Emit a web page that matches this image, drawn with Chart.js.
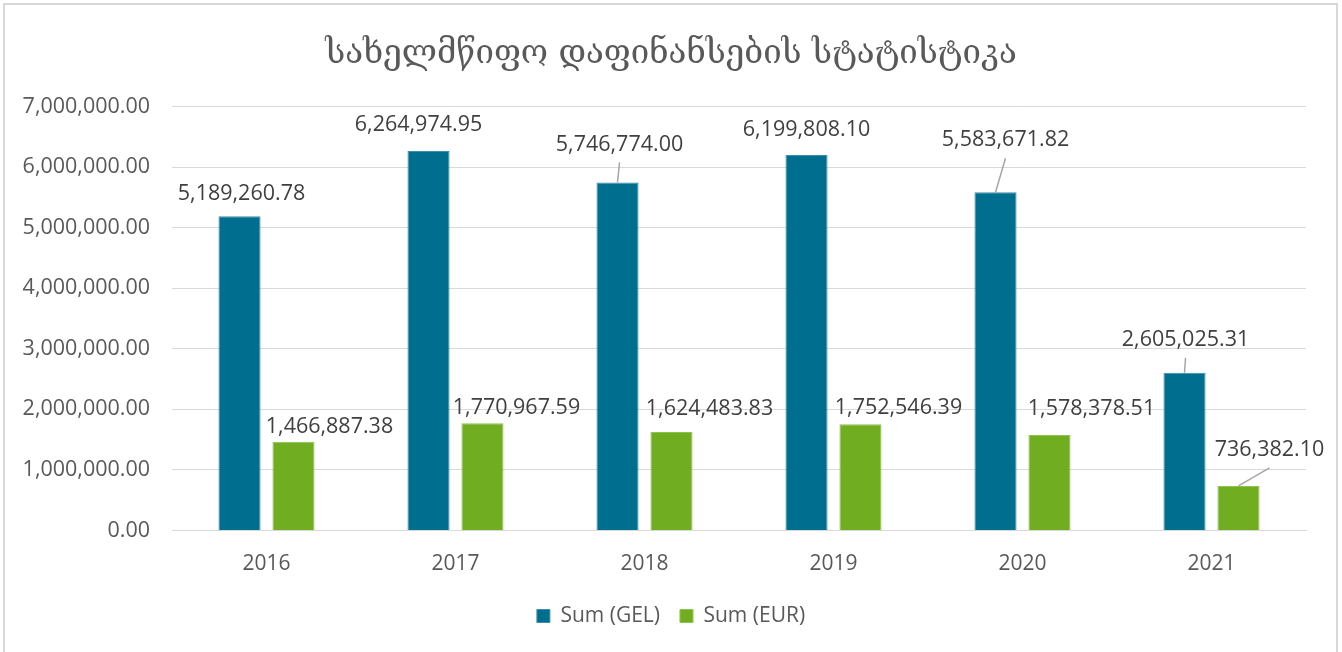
<!DOCTYPE html>
<html>
<head>
<meta charset="utf-8">
<script src="https://cdn.jsdelivr.net/npm/chart.js@4"></script>
<style>
  body { margin: 0; background: #fff; overflow: hidden; }
  #frame { position: absolute; left: 3px; top: 3px; width: 1331px; height: 700px; border: 2px solid #d9d9d9; pointer-events: none; }
  #myChart { position: absolute; left: 0; top: 0; }
</style>
</head>
<body>
<canvas id="myChart" width="1342" height="652"></canvas>
<div id="frame"></div>
<script>
// données
const years = ['2016', '2017', '2018', '2019', '2020', '2021'];
const sumGel = [5189260.78, 6264974.95, 5746774.00, 6199808.10, 5583671.82, 2605025.31];
const sumEur = [1466887.38, 1770967.59, 1624483.83, 1752546.39, 1578378.51, 736382.10];
const yTicks = [0, 1000000, 2000000, 3000000, 4000000, 5000000, 6000000, 7000000];

// position des étiquettes par rapport au haut de la barre [dx, dy, ligne de rappel]
const gelLabelPos = [[2, -22, false], [-10, -26, false], [2, -38, true], [0, -25, false], [10, -52, true], [1, -33, true]];
const eurLabelPos = [[36, -15, false], [34, -15, false], [38, -23, false], [38, -16, false], [42, -26, false], [31, -36, true]];

const fmt = v => v.toLocaleString('en-US', { minimumFractionDigits: 2, maximumFractionDigits: 2 });
const font = '"Open Sans", "Liberation Sans", sans-serif';

const labelPlugin = {
    id: 'barLabels',
    afterLayout(chart) {
        // titre et légende centrés sur toute la largeur
        chart.titleBlock.left += 36;
        chart.legend.left += 36;
    },
    afterDatasetsDraw(chart) {
        const ctx = chart.ctx;
        const positions = [gelLabelPos, eurLabelPos];
        ctx.save();
        ctx.font = '21.5px ' + font;
        ctx.textAlign = 'center';
        ctx.textBaseline = 'middle';
        chart.data.datasets.forEach((ds, i) => {
            chart.getDatasetMeta(i).data.forEach((bar, j) => {
                const p = positions[i][j];
                const lx = bar.x + p[0];
                const ly = bar.y + p[1];
                if (p[2]) {
                    ctx.strokeStyle = '#a6a6a6';
                    ctx.lineWidth = 1.5;
                    ctx.beginPath();
                    ctx.moveTo(lx, ly + 18);
                    ctx.lineTo(bar.x, bar.y);
                    ctx.stroke();
                }
                ctx.fillStyle = '#404040';
                ctx.fillText(fmt(ds.data[j]), lx, ly);
            });
        });
        ctx.restore();
    }
};

new Chart(document.getElementById('myChart').getContext('2d'), {
    type: 'bar',
    data: {
        labels: years,
        datasets: [{
            label: 'Sum (GEL)',
            data: sumGel,
            backgroundColor: '#006e8f',
            borderColor: '#3c8fa8',
            borderWidth: 1,
            categoryPercentage: 0.571,
            barPercentage: 0.78
        }, {
            label: 'Sum (EUR)',
            data: sumEur,
            backgroundColor: '#70ad20',
            borderColor: '#8fc24f',
            borderWidth: 1,
            categoryPercentage: 0.571,
            barPercentage: 0.78
        }]
    },
    options: {
        responsive: false,
        animation: false,
        layout: { padding: { top: 0, left: 0, right: 36, bottom: 15.5 } },
        plugins: {
            title: {
                display: true,
                text: 'სახელმწიფო დაფინანსების სტატისტიკა',
                color: '#595959',
                font: { family: '"DejaVu Serif", "DejaVu Sans", serif', size: 33, weight: 'normal' },
                padding: { top: 35, bottom: 31.9 }
            },
            legend: {
                position: 'bottom',
                labels: {
                    color: '#595959',
                    font: { family: font, size: 21 },
                    boxWidth: 13,
                    boxHeight: 13,
                    padding: 20
                }
            },
            tooltip: { enabled: false }
        },
        scales: {
            x: {
                grid: { display: false },
                border: { display: true, color: '#d9d9d9', width: 1 },
                ticks: { color: '#595959', font: { family: font, size: 21 }, padding: 13 },
                afterFit: s => { s.height = 55; }
            },
            y: {
                min: 0,
                max: 7000000,
                afterBuildTicks: s => { s.ticks = yTicks.map(v => ({ value: v })); },
                grid: { color: '#d9d9d9', lineWidth: 1, drawTicks: false },
                border: { display: false },
                ticks: { color: '#595959', font: { family: font, size: 21.5 }, padding: 22, callback: v => fmt(v) },
                afterFit: s => { s.width = 172; }
            }
        }
    },
    plugins: [labelPlugin]
});
</script>
</body>
</html>
